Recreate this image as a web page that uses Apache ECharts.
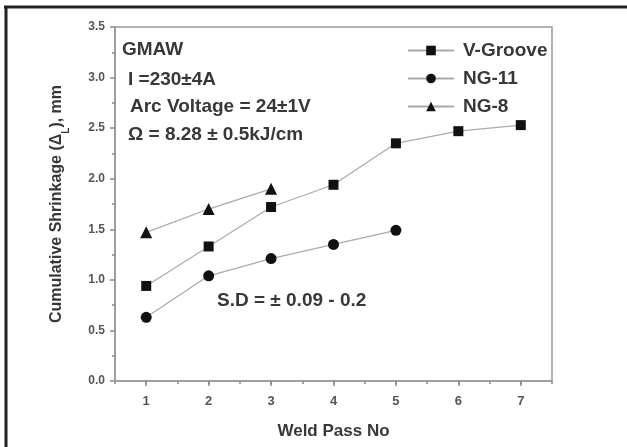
<!DOCTYPE html>
<html><head><meta charset="utf-8">
<script src="https://cdn.jsdelivr.net/npm/echarts@6/dist/echarts.min.js"></script>
<style>html,body{margin:0;padding:0;background:#fff}#c{width:627px;height:447px}</style>
</head><body><div id="c"></div>
<script>
const passes = ['1','2','3','4','5','6','7'];
const vGroove = [0.94, 1.33, 1.72, 1.94, 2.35, 2.47, 2.53];
const ng11 = [0.63, 1.04, 1.21, 1.35, 1.49];
const ng8 = [1.47, 1.70, 1.90];
const yTicks = [0, 3.5, 0.5];
const xMinor = [0.5, 7.5, 0.5];
const notes = ['GMAW', 'I =230±4A', 'Arc Voltage = 24±1V', 'Ω = 8.28 ± 0.5kJ/cm', 'S.D = ± 0.09 - 0.2'];

const FONT = "'Liberation Sans', Arial, sans-serif";
const TXT = '#383838';
const chart = echarts.init(document.getElementById('c'), null, {renderer: 'canvas'});
const mk = (name, data, symbol, size) => ({
  name, type: 'line', data, symbol, symbolSize: size, xAxisIndex: 0,
  itemStyle: {color: '#111'}, lineStyle: {color: '#aaa', width: 1.2},
  emphasis: {disabled: true}, z: 3
});
chart.setOption({
  animation: false,
  backgroundColor: '#fff',
  grid: {left: 115, top: 27, right: 75, bottom: 66, show: true, borderColor: '#999', borderWidth: 1.5},
  xAxis: [{
    type: 'category', data: passes, boundaryGap: true,
    name: 'Weld Pass No', nameLocation: 'middle', nameGap: 42,
    nameTextStyle: {fontFamily: FONT, fontWeight: 'bold', fontSize: 17, color: TXT},
    axisLine: {lineStyle: {color: '#999', width: 1.5}},
    axisTick: {show: true, alignWithLabel: true, length: 5, lineStyle: {color: '#888', width: 1.5}},
    axisLabel: {fontFamily: FONT, fontWeight: 'bold', fontSize: 13, color: '#555', margin: 14},
    splitLine: {show: false}, z: 5
  }, {
    type: 'value', min: xMinor[0], max: xMinor[1], interval: xMinor[2], position: 'bottom',
    axisLine: {show: false},
    axisTick: {show: true, length: 3, lineStyle: {color: '#888', width: 1.5}},
    axisLabel: {show: false}, splitLine: {show: false}, z: 4
  }],
  yAxis: {
    type: 'value', min: yTicks[0], max: yTicks[1], interval: yTicks[2],
    name: 'Cumulative Shrinkage (Δ{sub|L}), mm', nameLocation: 'middle', nameGap: 50,
    nameTextStyle: {fontFamily: FONT, fontWeight: 'bold', fontSize: 16, color: TXT,
      rich: {sub: {fontFamily: FONT, fontWeight: 'bold', fontSize: 10, color: TXT, verticalAlign: 'bottom', padding: [0,0,-6,0]}}},
    axisLine: {show: true, lineStyle: {color: '#999', width: 1.5}},
    axisTick: {show: true, length: 5, lineStyle: {color: '#888', width: 1.5}},
    minorTick: {show: true, splitNumber: 2, length: 3, lineStyle: {color: '#888', width: 1.5}},
    axisLabel: {fontFamily: FONT, fontWeight: 'bold', fontSize: 12, color: '#555', margin: 10,
      formatter: v => v.toFixed(1)},
    splitLine: {show: false}
  },
  legend: {
    orient: 'vertical', left: 402, top: 36, itemWidth: 46, itemHeight: 12, itemGap: 9,
    textStyle: {fontFamily: FONT, fontWeight: 'bold', fontSize: 19, color: TXT, padding: [0,0,0,4]},
    data: ['V-Groove', 'NG-11', 'NG-8']
  },
  series: [mk('V-Groove', vGroove, 'rect', 10), mk('NG-11', ng11, 'circle', 11), mk('NG-8', ng8, 'triangle', 12)],
  graphic: [
    {type: 'line', shape: {x1: 4, y1: 7, x2: 627, y2: 7}, style: {stroke: '#222', lineWidth: 3}},
    {type: 'line', shape: {x1: 6, y1: 6, x2: 6, y2: 447}, style: {stroke: '#222', lineWidth: 3}},
    {type: 'text', left: 122, top: 40, style: {text: notes[0], font: "bold 19px " + FONT, fill: TXT}},
    {type: 'text', left: 128, top: 70, style: {text: notes[1], font: "bold 19px " + FONT, fill: TXT}},
    {type: 'text', left: 130, top: 97, style: {text: notes[2], font: "bold 19px " + FONT, fill: TXT}},
    {type: 'text', left: 128, top: 125, style: {text: notes[3], font: "bold 19px " + FONT, fill: TXT}},
    {type: 'text', left: 217, top: 291, style: {text: notes[4], font: "bold 19px " + FONT, fill: TXT}}
  ]
});
</script></body></html>
